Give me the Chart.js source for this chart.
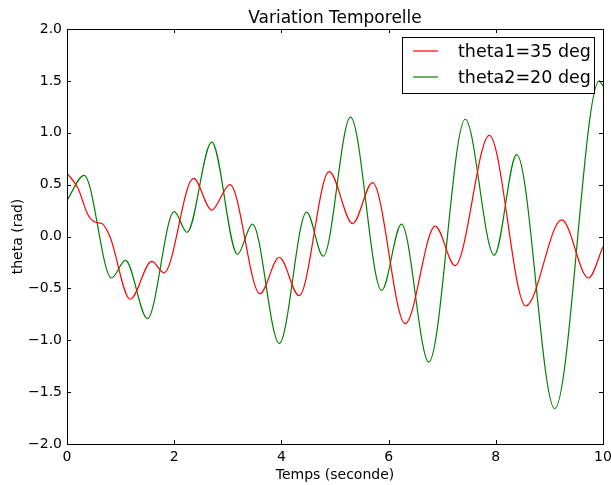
<!DOCTYPE html>
<html>
<head>
<meta charset="utf-8">
<script src="https://cdn.jsdelivr.net/npm/chart.js@4"></script>
<style>
html,body{margin:0;padding:0;background:#fff;}
#wrap{width:611px;height:485px;}
</style>
</head>
<body>
<div id="wrap"><canvas id="c" width="611" height="485"></canvas></div>
<script>
// ---- data ----
const chartTitle = "Variation Temporelle";
const xTitle = "Temps (seconde)";
const yTitle = "theta (rad)";
const label1 = "theta1=35 deg";
const label2 = "theta2=20 deg";

const time1  = [0, 0.2, 0.4, 0.55, 0.65, 0.8, 1.18, 1.58, 1.81, 2.36, 2.70, 3.04, 3.60, 3.96, 4.33, 4.89, 5.33, 5.70, 6.31, 6.87, 7.24, 7.88, 8.56, 9.23, 9.73, 10.0];
const theta1 = [0.611, 0.47, 0.20, 0.135, 0.125, 0.0, -0.605, -0.24, -0.35, 0.56, 0.255, 0.50, -0.55, -0.20, -0.57, 0.625, 0.125, 0.52, -0.84, 0.10, -0.28, 0.975, -0.67, 0.16, -0.40, -0.10];

const time2  = [0, 0.32, 0.83, 1.09, 1.50, 2.0, 2.24, 2.70, 3.18, 3.46, 3.96, 4.47, 4.78, 5.29, 5.87, 6.24, 6.75, 7.43, 7.97, 8.39, 9.10, 9.93, 10.0];
const theta2 = [0.349, 0.59, -0.40, -0.23, -0.79, 0.24, 0.04, 0.91, -0.17, 0.12, -1.03, 0.235, -0.19, 1.15, -0.52, 0.12, -1.21, 1.13, -0.18, 0.79, -1.66, 1.50, 1.45];

const xTicks = [0, 2, 4, 6, 8, 10];
const yTicks = [-2.0, -1.5, -1.0, -0.5, 0.0, 0.5, 1.0, 1.5, 2.0];

const FONT = "'DejaVu Sans', 'Liberation Sans', sans-serif";

function toPts(xs, ys) { return xs.map((x, i) => ({x: x, y: ys[i]})); }

const framePlugin = {
  id: 'frame',
  afterDatasetsDraw(chart) {
    const {ctx, chartArea: a, scales} = chart;
    ctx.save();
    ctx.strokeStyle = '#000';
    ctx.lineWidth = 1;
    ctx.strokeRect(Math.round(a.left) + 0.5, Math.round(a.top) + 0.5,
                   Math.round(a.right - a.left), Math.round(a.bottom - a.top));
    const tl = 4;
    ctx.beginPath();
    scales.x.ticks.forEach(t => {
      const px = Math.round(scales.x.getPixelForValue(t.value)) + 0.5;
      ctx.moveTo(px, a.bottom); ctx.lineTo(px, a.bottom - tl);
      ctx.moveTo(px, a.top); ctx.lineTo(px, a.top + tl);
    });
    scales.y.ticks.forEach(t => {
      const py = Math.round(scales.y.getPixelForValue(t.value)) + 0.5;
      ctx.moveTo(a.left, py); ctx.lineTo(a.left + tl, py);
      ctx.moveTo(a.right, py); ctx.lineTo(a.right - tl, py);
    });
    ctx.stroke();

    ctx.fillStyle = '#000';
    ctx.font = '17px ' + FONT;
    ctx.textAlign = 'center';
    ctx.textBaseline = 'alphabetic';
    ctx.fillText(chartTitle, (a.left + a.right) / 2, 22.5);

    const lx = 402, ly = 37, lw = 192, lh = 56;
    ctx.fillStyle = '#fff';
    ctx.fillRect(lx, ly, lw, lh);
    ctx.strokeStyle = '#000';
    ctx.lineWidth = 1;
    ctx.strokeRect(lx + 0.5, ly + 0.5, lw, lh);
    ctx.font = '17.5px ' + FONT;
    ctx.textAlign = 'left';
    ctx.textBaseline = 'middle';
    chart.data.datasets.forEach((ds, i) => {
      const y = ly + 14 + i * 26;
      ctx.strokeStyle = ds.borderColor;
      ctx.lineWidth = ds.borderWidth;
      ctx.beginPath();
      ctx.moveTo(413, y); ctx.lineTo(438, y);
      ctx.stroke();
      ctx.fillStyle = '#000';
      ctx.fillText(ds.label, 458, y + 1);
    });
    ctx.restore();
  }
};

new Chart(document.getElementById('c'), {
  type: 'line',
  data: {
    datasets: [
      { label: label1, data: toPts(time1, theta1), borderColor: '#ff0000', borderWidth: 1.2,
        pointRadius: 0, fill: false, cubicInterpolationMode: 'monotone' },
      { label: label2, data: toPts(time2, theta2), borderColor: '#008000', borderWidth: 1.2,
        pointRadius: 0, fill: false, cubicInterpolationMode: 'monotone' }
    ]
  },
  options: {
    responsive: false,
    animation: false,
    devicePixelRatio: 1,
    layout: { padding: { top: 29, right: 8, left: 0, bottom: 0 } },
    plugins: { legend: { display: false }, title: { display: false }, tooltip: { enabled: false } },
    scales: {
      x: {
        type: 'linear', min: 0, max: 10,
        afterBuildTicks: s => { s.ticks = xTicks.map(v => ({value: v})); },
        afterFit: s => { s.height = 41; s.paddingLeft = 0; s.paddingRight = 0; },
        grid: { display: false, drawTicks: false },
        border: { display: false },
        ticks: { color: '#000', font: { family: FONT, size: 14 }, padding: 5, maxRotation: 0,
                 callback: v => String(v) },
        title: { display: true, text: xTitle, color: '#000', font: { family: FONT, size: 14 },
                 padding: { top: 0, bottom: 1 } }
      },
      y: {
        type: 'linear', min: -2, max: 2,
        afterBuildTicks: s => { s.ticks = yTicks.map(v => ({value: v})); },
        afterFit: s => { s.width = 67; s.paddingTop = 0; s.paddingBottom = 0; },
        grid: { display: false, drawTicks: false },
        border: { display: false },
        ticks: { color: '#000', font: { family: FONT, size: 14 }, padding: 5,
                 callback: v => (v < 0 ? '\u2212' : '') + Math.abs(v).toFixed(1) },
        title: { display: true, text: yTitle, color: '#000', font: { family: FONT, size: 14 },
                 padding: { top: 10, bottom: 0 } }
      }
    }
  },
  plugins: [framePlugin]
});
</script>
</body>
</html>
